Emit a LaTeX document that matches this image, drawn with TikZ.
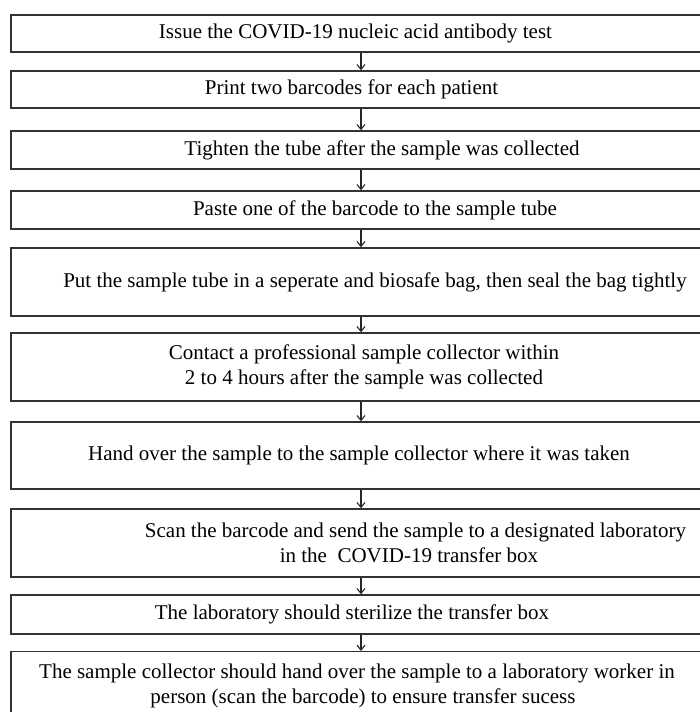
\documentclass[tikz,border=0pt]{standalone}
\usepackage{fontspec}
\setmainfont{Liberation Serif}
\usetikzlibrary{positioning,arrows.meta}

\begin{document}
\begin{tikzpicture}[x=1pt,y=1pt,
   stepbox/.style={draw=black!80, line width=1.3pt, rectangle, minimum width=700pt,
      align=center, inner sep=0pt, font=\fontsize{21}{25}\selectfont},
   flow/.style={-{Straight Barb[length=5pt,width=8pt]}, line width=1.1pt, draw=black!85}]
   \useasboundingbox (0,0) rectangle (700,-712);
   \clip (0,0) rectangle (700,-712);
   % steps
   \node[stepbox, minimum height=37pt] (issue) at (361,-33.5) {\hspace*{-11pt}Issue the COVID-19 nucleic acid antibody test};
   \node[stepbox, minimum height=37pt] (print) at (361,-89.5) {\hspace*{-19pt}Print two barcodes for each patient};
   \node[stepbox, minimum height=38pt] (tighten) at (361,-150) {\hspace*{42pt}Tighten the tube after the sample was collected};
   \node[stepbox, minimum height=38pt] (paste) at (361,-210) {\hspace*{28pt}Paste one of the barcode to the sample tube};
   \node[stepbox, minimum height=68pt] (bag) at (361,-282) {\hspace*{28pt}Put the sample tube in a seperate and biosafe bag, then seal the bag tightly};
   \node[stepbox, minimum height=68pt] (contact) at (361,-367) {\hspace*{6pt}Contact a professional sample collector within\\ \hspace*{6pt}2 to 4 hours after the sample was collected};
   \node[stepbox, minimum height=67pt] (handover) at (361,-455.5) {\hspace*{-4pt}Hand over the sample to the sample collector where it was taken};
   \node[stepbox, minimum height=68pt] (scan) at (361,-543) {\hspace*{109pt}Scan the barcode and send the sample to a designated laboratory\\ \hspace*{96pt}in the\ \ COVID-19 transfer box};
   \node[stepbox, minimum height=39pt] (sterilize) at (361,-614.5) {\hspace*{-18pt}The laboratory should sterilize the transfer box};
   \node[stepbox, minimum height=68pt, anchor=north] (handin) at (361,-651) {\hspace*{-8pt}The sample collector should hand over the sample to a laboratory worker in\\ \hspace*{4pt}person (scan the barcode) to ensure transfer sucess};
   % arrows
   \draw[flow] (issue) -- (print);
   \draw[flow] (print) -- (tighten);
   \draw[flow] (tighten) -- (paste);
   \draw[flow] (paste) -- (bag);
   \draw[flow] (bag) -- (contact);
   \draw[flow] (contact) -- (handover);
   \draw[flow] (handover) -- (scan);
   \draw[flow] (scan) -- (sterilize);
   \draw[flow] (sterilize) -- (handin);
\end{tikzpicture}
\end{document}
